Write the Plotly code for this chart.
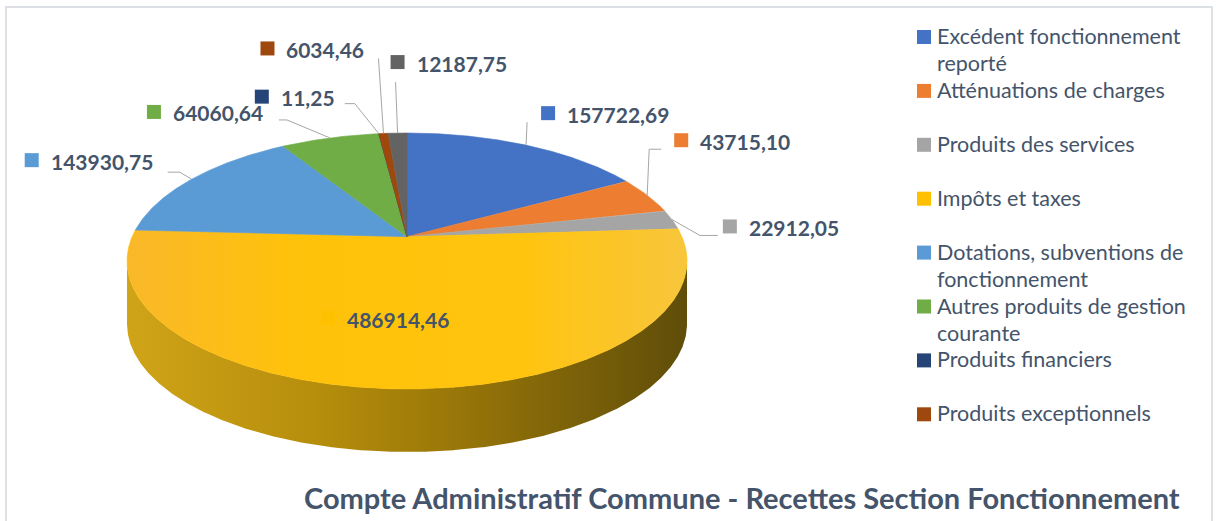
import numpy as np
import plotly.graph_objects as go

# ---------------- data ----------------
CATEGORIES = [
    "Excédent fonctionnement reporté",
    "Atténuations de charges",
    "Produits des services",
    "Impôts et taxes",
    "Dotations, subventions de fonctionnement",
    "Autres produits de gestion courante",
    "Produits financiers",
    "Produits exceptionnels",
    "Autres",
]
VALUES = [157722.69, 43715.10, 22912.05, 486914.46, 143930.75, 64060.64, 11.25, 6034.46, 12187.75]
COLORS = ["#4472C4", "#ED7D31", "#A5A5A5", "#FFC000", "#5B9BD5", "#70AD47", "#264478", "#9E480E", "#636363"]
LEGEND_LINES = [
    ["Excédent fonctionnement", "reporté"],
    ["Atténuations de charges"],
    ["Produits des services"],
    ["Impôts et taxes"],
    ["Dotations, subventions de", "fonctionnement"],
    ["Autres produits de gestion", "courante"],
    ["Produits financiers"],
    ["Produits exceptionnels"],
]
TITLE = "Compte Administratif Commune - Recettes Section Fonctionnement"

# ---------------- style / geometry ----------------
W, H = 1216, 521
CX, CY, RX, RY = 407, 261, 280, 128
BETA = 0.19
GAMMA = 1 / np.sqrt(1 - BETA ** 2)
DEPTH = 63
START = 90.0
FONT = "Lato"
TXT = "#44546A"
LEADER = "#A6A6A6"

# label square offset from rim point (or inner point), leader polyline offsets from rim
LABEL_STYLE = [
    dict(sq=(22, -32), lead=[(1, -23)]),
    dict(sq=(34, -55), lead=[(2, -46), (14, -46)]),
    dict(sq=(58, 7), lead=[(28, 16), (46, 16)]),
    dict(sq=(-80, -2), lead=None, inner=0.6),
    dict(sq=(-160, -19), lead=[(-12, -7), (-24, -7)]),
    dict(sq=(-176, -26), lead=[(-43, -18), (-51, -18)]),
    dict(sq=(-117, -37), lead=[(-24, -30), (-34, -30)]),
    dict(sq=(-116, -85), lead=[(-5, -75)]),
    dict(sq=(0, -71), lead=[(-2, -51)]),
]

SIDE_SCALE = [[0, "#D0A418"], [0.35, "#B58D0C"], [0.6, "#977508"], [1, "#5F4D09"]]


def unit(theta_deg, r=1.0):
    t = np.radians(theta_deg)
    u, v = r * np.cos(t), r * np.sin(t)
    den = 1 + BETA * v
    return u / (GAMMA * den), (v + BETA) / den


def screen(ux, uy, dz=0.0):
    return CX + RX * np.asarray(ux), CY - RY * np.asarray(uy) + dz


total = float(sum(VALUES))
fr = np.array(VALUES) / total
cum = np.concatenate([[0], np.cumsum(fr)])
starts = START - 360 * cum[:-1]
ends = START - 360 * cum[1:]

fig = go.Figure()

# side walls (front half only)
for i, v in enumerate(VALUES):
    n = max(3, int(abs(starts[i] - ends[i]) * 4) + 2)
    th = np.linspace(starts[i], ends[i], n)
    ux, uy = unit(th)
    m = uy <= 0
    if m.sum() < 2:
        continue
    tx, ty = screen(ux[m], uy[m])
    bx, by = screen(ux[m], uy[m], DEPTH)
    px = np.concatenate([tx, bx[::-1], tx[:1]])
    py = np.concatenate([ty, by[::-1], ty[:1]])
    kw = {}
    if COLORS[i] == "#FFC000":
        kw["fillgradient"] = dict(type="horizontal", colorscale=SIDE_SCALE)
    else:
        kw["fillcolor"] = COLORS[i]
    fig.add_trace(go.Scatter(x=px, y=py, mode="lines", fill="toself",
                             line=dict(width=0, color=COLORS[i]), hoverinfo="skip",
                             showlegend=False, **kw))

# top faces
ax, ay = screen(*unit(0.0, 0.0))
for i, v in enumerate(VALUES):
    n = max(3, int(abs(starts[i] - ends[i]) * 4) + 2)
    th = np.linspace(starts[i], ends[i], n)
    rx_, ry_ = screen(*unit(th))
    px = np.concatenate([[ax], rx_, [ax]])
    py = np.concatenate([[ay], ry_, [ay]])
    kw = {}
    if COLORS[i] == "#FFC000":
        kw["fillgradient"] = dict(type="horizontal",
                                  colorscale=[[0, "#F9B82A"], [0.3, "#FFC20A"], [0.7, "#FFC40E"], [1, "#F8C63C"]])
    else:
        kw["fillcolor"] = COLORS[i]
    fig.add_trace(go.Scatter(x=px, y=py, mode="lines", fill="toself",
                             line=dict(width=0.6, color=COLORS[i]),
                             name=CATEGORIES[i], hoveron="fills",
                             text=f"{CATEGORIES[i]}: {v:.2f}".replace(".", ","),
                             hoverinfo="text", showlegend=False, **kw))

shapes = []
annotations = []

# data labels
for i, v in enumerate(VALUES):
    st = LABEL_STYLE[i]
    mid = (starts[i] + ends[i]) / 2
    rimx, rimy = screen(*unit(mid))
    rimx, rimy = float(rimx), float(rimy)
    if st.get("inner"):
        bx, by = screen(*unit(mid, st["inner"]))
        bx, by = float(bx), float(by)
    else:
        bx, by = rimx, rimy
        lx = [rimx] + [rimx + d[0] for d in st["lead"]]
        ly = [rimy] + [rimy + d[1] for d in st["lead"]]
        fig.add_trace(go.Scatter(x=lx, y=ly, mode="lines", line=dict(color=LEADER, width=1),
                                 hoverinfo="skip", showlegend=False))
    sx, sy = bx + st["sq"][0], by + st["sq"][1]
    shapes.append(dict(type="rect", x0=sx - 7, x1=sx + 7, y0=sy - 7, y1=sy + 7,
                       fillcolor=COLORS[i], line=dict(width=0), layer="above"))
    annotations.append(dict(x=sx + 18, y=sy + 1, xanchor="left", yanchor="middle", showarrow=False,
                            borderpad=0, text=f"{v:.2f}".replace(".", ","),
                            font=dict(family=FONT, size=21, color=TXT, weight="bold")))

# legend
LEG_X, LEG_Y0, LEG_DY, LINE_DY = 924, 37, 53.9, 27
for i, lines in enumerate(LEGEND_LINES):
    y = LEG_Y0 + i * LEG_DY
    shapes.append(dict(type="rect", x0=LEG_X - 7, x1=LEG_X + 7, y0=y - 7, y1=y + 7,
                       fillcolor=COLORS[i], line=dict(width=0)))
    for k, t in enumerate(lines):
        annotations.append(dict(x=LEG_X + 12, y=y - 1 + k * LINE_DY, xanchor="left", yanchor="middle",
                                showarrow=False, borderpad=0, text=t,
                                font=dict(family=FONT, size=21.5, color=TXT)))

# title
annotations.append(dict(x=1181, y=497, xanchor="right", yanchor="middle", showarrow=False, text=TITLE,
                        borderpad=0, font=dict(family=FONT, size=29, color=TXT, weight="bold")))

# chart border
shapes.append(dict(type="rect", x0=6, x1=1212, y0=7, y1=540, line=dict(color="#DDE1E6", width=2),
                   fillcolor="rgba(0,0,0,0)"))

fig.update_layout(
    width=W, height=H,
    margin=dict(l=0, r=0, t=0, b=0),
    paper_bgcolor="white", plot_bgcolor="white",
    xaxis=dict(range=[0, W], visible=False, fixedrange=True),
    yaxis=dict(range=[H, 0], visible=False, fixedrange=True),
    shapes=shapes, annotations=annotations,
    showlegend=False,
)

fig.write_html("out.html", config=dict(displayModeBar=False),
               post_script="document.body.style.margin='0';document.body.style.overflow='hidden';")
